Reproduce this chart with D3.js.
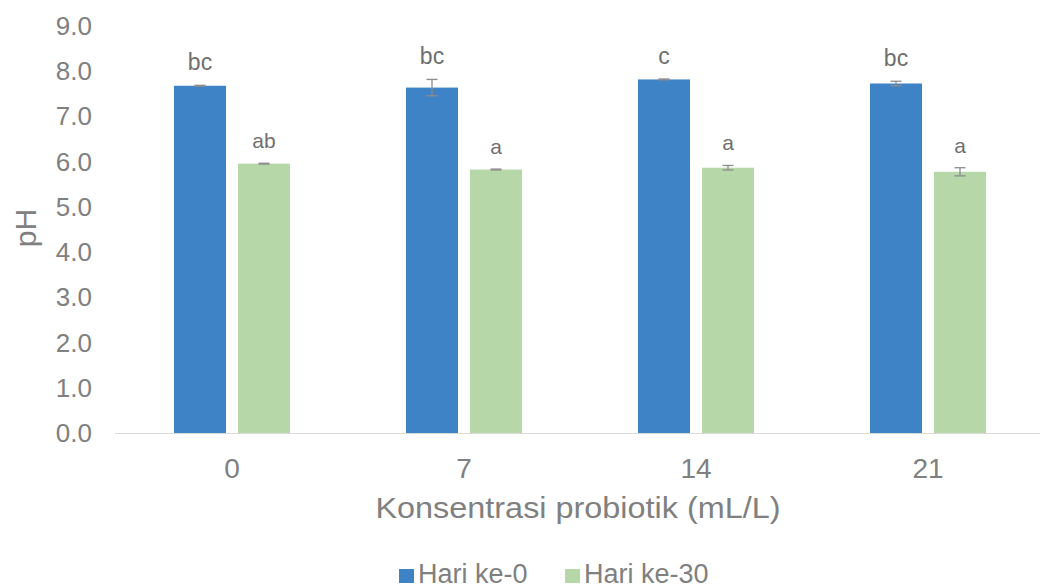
<!DOCTYPE html>
<html>
<head>
<meta charset="utf-8">
<script src="https://cdn.jsdelivr.net/npm/d3@7/dist/d3.min.js"></script>
<style>
  html, body { margin: 0; padding: 0; background: #fff; }
  svg { display: block; font-family: "Liberation Sans", Arial, sans-serif; }
</style>
</head>
<body>
<svg id="chart" width="1040" height="588"></svg>
<script>
// Probiotic concentration (mL/L) on the x axis
const categories = ["0", "7", "14", "21"];
const seriesNames = ["Hari ke-0", "Hari ke-30"];
// Mean pH per concentration
const day0Values = [7.68, 7.64, 7.82, 7.73];
const day30Values = [5.96, 5.83, 5.87, 5.78];
// Standard deviations (error bars)
const day0Errors = [0.01, 0.18, 0.01, 0.05];
const day30Errors = [0.01, 0.01, 0.05, 0.09];
// Significance letters
const day0Letters = ["bc", "bc", "c", "bc"];
const day30Letters = ["ab", "a", "a", "a"];
const yTicks = [0, 1, 2, 3, 4, 5, 6, 7, 8, 9];

const colors = ["#3e83c6", "#b6d7a8"];
const textColor = "#808080";

const svg = d3.select("#chart");
const plotLeft = 116, plotRight = 1044, plotTop = 26, plotBottom = 433.5;

const x = d3.scaleBand().domain(categories).range([plotLeft, plotRight]).paddingInner(0).paddingOuter(0);
const y = d3.scaleLinear().domain([0, 9]).range([plotBottom, plotTop]);

const barW = 52, innerGap = 12;
const sub = d3.scaleOrdinal().domain(seriesNames)
  .range([-(barW + innerGap / 2), innerGap / 2]);

const rows = [];
categories.forEach((c, i) => {
  rows.push({ cat: c, s: seriesNames[0], v: day0Values[i], e: day0Errors[i], lab: day0Letters[i], col: colors[0] });
  rows.push({ cat: c, s: seriesNames[1], v: day30Values[i], e: day30Errors[i], lab: day30Letters[i], col: colors[1] });
});
const bx = d => x(d.cat) + x.bandwidth() / 2 + sub(d.s);

// Y axis labels (no axis line, no gridlines)
const yAxis = d3.axisLeft(y).tickValues(yTicks).tickFormat(d3.format(".1f")).tickSize(0).tickPadding(0);
const gy = svg.append("g").attr("transform", "translate(92,0)").call(yAxis);
gy.select(".domain").remove();
gy.selectAll("text").attr("fill", textColor).style("font-size", "26px")
  .style("font-family", "Liberation Sans, Arial, sans-serif");

// Bars
svg.append("g").selectAll("rect").data(rows).join("rect")
  .attr("x", bx).attr("width", barW)
  .attr("y", d => y(d.v)).attr("height", d => y(0) - y(d.v))
  .attr("fill", d => d.col);

// Baseline
svg.append("line").attr("x1", 115).attr("x2", 1040)
  .attr("y1", y(0)).attr("y2", y(0))
  .attr("stroke", "#d9d9d9").attr("stroke-width", 1.2);

// X axis labels
const xAxis = d3.axisBottom(x).tickSize(0).tickPadding(0);
const gx = svg.append("g").attr("transform", `translate(0,${y(0)})`).call(xAxis);
gx.select(".domain").remove();
gx.selectAll("text").attr("fill", textColor).attr("dy", null).attr("y", 44.5)
  .style("font-size", "28px")
  .style("font-family", "Liberation Sans, Arial, sans-serif");

// Error bars
const eb = svg.append("g").attr("stroke", "#8c8c8c").attr("stroke-width", 1.3).attr("fill", "none");
rows.forEach(d => {
  const cx = bx(d) + barW / 2;
  const y1 = y(d.v + d.e), y2 = y(d.v - d.e);
  eb.append("line").attr("x1", cx).attr("x2", cx).attr("y1", y1).attr("y2", y2);
  eb.append("line").attr("x1", cx - 5.5).attr("x2", cx + 5.5).attr("y1", y1).attr("y2", y1);
  eb.append("line").attr("x1", cx - 5.5).attr("x2", cx + 5.5).attr("y1", y2).attr("y2", y2);
});

// Significance letters
svg.append("g").selectAll("text").data(rows).join("text")
  .attr("x", d => bx(d) + barW / 2)
  .attr("y", d => y(d.v + d.e) - 15)
  .attr("text-anchor", "middle")
  .attr("fill", "#6f6f6f")
  .style("font-size", d => d.s === seriesNames[0] ? "23px" : "21px")
  .text(d => d.lab);

// Axis titles
svg.append("text").attr("x", 578).attr("y", 518)
  .attr("text-anchor", "middle").attr("fill", textColor)
  .attr("textLength", 405).attr("lengthAdjust", "spacingAndGlyphs")
  .style("font-size", "29px").text("Konsentrasi probiotik (mL/L)");
svg.append("text").attr("transform", "translate(36,228) rotate(-90)")
  .attr("text-anchor", "middle").attr("fill", textColor)
  .style("font-size", "30px").text("pH");

// Legend
const legend = svg.append("g");
const legX = [399, 565];
seriesNames.forEach((n, i) => {
  legend.append("rect").attr("x", legX[i]).attr("y", 569).attr("width", 15).attr("height", 14).attr("fill", colors[i]);
  legend.append("text").attr("x", legX[i] + 19).attr("y", 583)
    .attr("fill", textColor).style("font-size", "27px").text(n);
});
</script>
</body>
</html>
